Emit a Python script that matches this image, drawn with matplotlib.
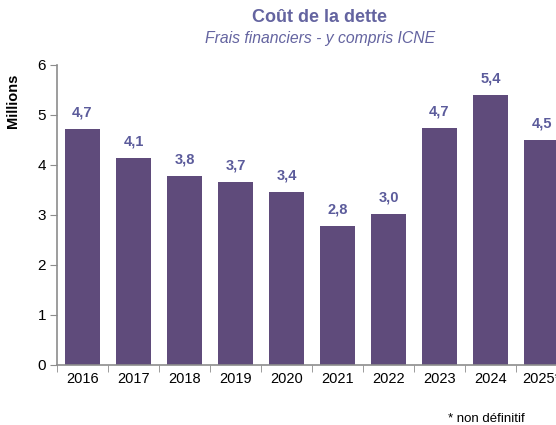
import numpy as np
import matplotlib.pyplot as plt

plt.rcParams['font.family'] = ['Liberation Sans', 'DejaVu Sans']

years = ["2016", "2017", "2018", "2019", "2020", "2021", "2022", "2023", "2024", "2025*"]
values = [4.72, 4.14, 3.78, 3.66, 3.46, 2.78, 3.02, 4.74, 5.40, 4.50]
labels = ["4,7", "4,1", "3,8", "3,7", "3,4", "2,8", "3,0", "4,7", "5,4", "4,5"]

bar_color = "#5f4b7b"
label_color = "#5b5b9b"
axis_color = "#8c8c8c"

fig = plt.figure(figsize=(5.56, 4.25), dpi=100)
ax = fig.add_axes([57/556, 60/425, 510/556, 300/425])

x = np.arange(len(years))
ax.bar(x, values, width=0.69, color=bar_color, zorder=2)
for xi, v, lab in zip(x, values, labels):
    ax.annotate(lab, (xi, v), xytext=(0, 7), textcoords="offset points",
                ha="center", va="bottom", fontsize=10.5, fontweight="bold", color=label_color)

ax.set_xlim(-0.5, len(years) - 0.5)
ax.set_ylim(0, 6)
ax.set_yticks(range(7))
ax.set_xticks(x)
ax.set_xticklabels(years)
ax.set_xticks(np.arange(-0.5, len(years), 1), minor=True)
ax.tick_params(axis="x", which="major", length=0, labelsize=10.5, pad=5)
ax.tick_params(axis="x", which="minor", length=5, color=axis_color, direction="out")
ax.tick_params(axis="y", length=5, color=axis_color, labelsize=11, pad=3)
for side in ["top", "right"]:
    ax.spines[side].set_visible(False)
for side in ["left", "bottom"]:
    ax.spines[side].set_color(axis_color)
    ax.spines[side].set_linewidth(1.2)

ax.set_ylabel("Millions", fontsize=10.5, fontweight="bold")
ax.yaxis.set_label_coords(-37/510, 0.88)

fig.text(320/556, 1 - 17/425, "Coût de la dette", ha="center", va="center",
         fontsize=13, fontweight="bold", color="#6464a0")
fig.text(320/556, 1 - 38/425, "Frais financiers - y compris ICNE", ha="center", va="center",
         fontsize=11.3, style="italic", color="#6464a0")
fig.text(525/556, 1 - 419/425, "* non définitif", ha="right", va="center", fontsize=9.5)

fig.savefig("out.png", dpi=100)
